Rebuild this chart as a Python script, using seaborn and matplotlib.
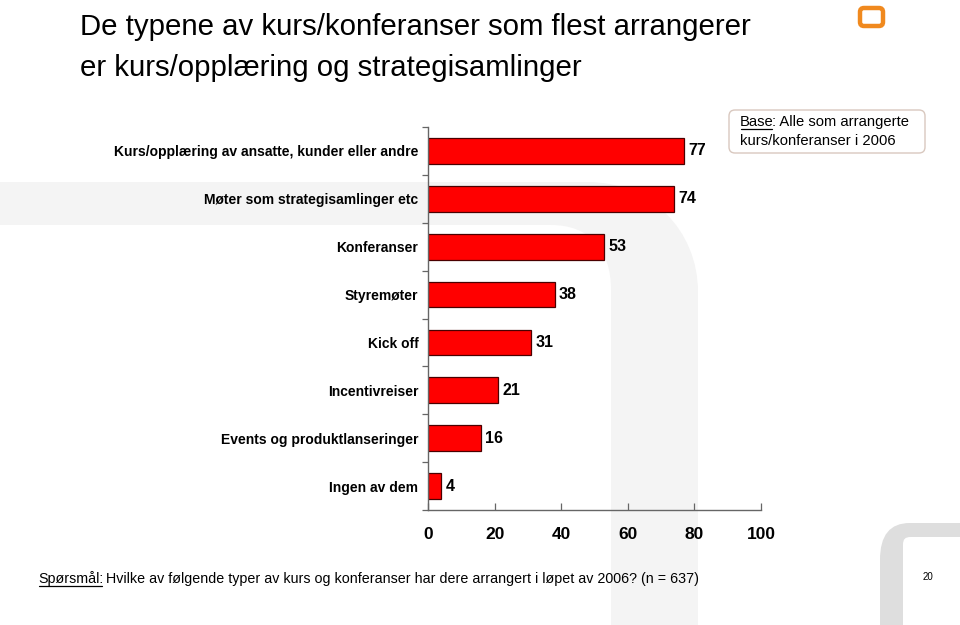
import matplotlib
matplotlib.use("Agg")
import matplotlib.pyplot as plt
import seaborn as sns
import numpy as np
from matplotlib.path import Path
from matplotlib.patches import PathPatch, FancyBboxPatch
from matplotlib.ticker import FixedLocator

categories = [
    "Kurs/opplæring av ansatte, kunder eller andre",
    "Møter som strategisamlinger etc",
    "Konferanser",
    "Styremøter",
    "Kick off",
    "Incentivreiser",
    "Events og produktlanseringer",
    "Ingen av dem",
]
values = [77, 74, 53, 38, 31, 21, 16, 4]
xticks = [0, 20, 40, 60, 80, 100]

title_lines = ["De typene av kurs/konferanser som flest arrangerer",
               "er kurs/opplæring og strategisamlinger"]
base_label = "Base"
base_rest = ": Alle som arrangerte"
base_line2 = "kurs/konferanser i 2006"
q_label = "Spørsmål:"
q_rest = " Hvilke av følgende typer av kurs og konferanser har dere arrangert i løpet av 2006? (n = 637)"
page_no = "20"

sns.set_style("white")
plt.rcParams["font.family"] = ["Liberation Sans", "DejaVu Sans"]
plt.rcParams["text.color"] = "black"
plt.rcParams["xtick.color"] = "black"
plt.rcParams["ytick.color"] = "black"

W, H = 960, 625
fig = plt.figure(figsize=(9.6, 6.25), dpi=100)

# background layer in pixel coordinates
bg = fig.add_axes([0, 0, 1, 1], zorder=0)
bg.set_xlim(0, W)
bg.set_ylim(H, 0)
bg.axis("off")

# large decorative shape
verts = [(0, 182), (588, 182), (650, 182), (698, 230), (698, 292),
         (698, 625), (611, 625), (611, 290), (611, 250), (590, 225), (551, 225),
         (0, 225), (0, 182)]
codes = [Path.MOVETO, Path.LINETO, Path.CURVE4, Path.CURVE4, Path.CURVE4,
         Path.LINETO, Path.LINETO, Path.LINETO, Path.CURVE4, Path.CURVE4, Path.CURVE4,
         Path.LINETO, Path.CLOSEPOLY]
bg.add_patch(PathPatch(Path(verts, codes), facecolor="#f4f4f4", edgecolor="none"))

# bottom-right decorative shape
verts2 = [(960, 523), (910, 523), (890, 523), (880, 535), (880, 560),
          (880, 625), (903, 625), (903, 545), (903, 539), (905, 537), (911, 537),
          (960, 537), (960, 523)]
codes2 = [Path.MOVETO, Path.LINETO, Path.CURVE4, Path.CURVE4, Path.CURVE4,
          Path.LINETO, Path.LINETO, Path.LINETO, Path.CURVE4, Path.CURVE4, Path.CURVE4,
          Path.LINETO, Path.CLOSEPOLY]
bg.add_patch(PathPatch(Path(verts2, codes2), facecolor="#dedede", edgecolor="none"))

# orange icon
bg.add_patch(FancyBboxPatch((860, 8), 23, 18, boxstyle="round,pad=0,rounding_size=4",
                            facecolor="none", edgecolor="#f0891e", linewidth=3.2))

# title
bg.text(80, 27, title_lines[0], fontsize=21.2, va="center", ha="left")
bg.text(80, 68, title_lines[1], fontsize=21.2, va="center", ha="left")

# base box
bg.add_patch(FancyBboxPatch((729, 110), 196, 43, boxstyle="round,pad=0,rounding_size=6",
                            facecolor="white", edgecolor="#d9c8bf", linewidth=1.0))

fig.canvas.draw()
renderer = fig.canvas.get_renderer()
inv = bg.transData.inverted()


def underlined(x, y, lab, rest, size):
    t = bg.text(x, y, lab, fontsize=size, va="baseline", ha="left")
    bb = t.get_window_extent(renderer)
    (x0, _), (x1, _) = inv.transform([(bb.x0, bb.y0), (bb.x1, bb.y0)])
    x1 -= 1.5
    bg.plot([x0 + 0.5, x1], [y + 2.5, y + 2.5], color="black", lw=0.9)
    bg.text(x1, y, rest, fontsize=size, va="baseline", ha="left")


underlined(740, 126, base_label, base_rest, 10.6)
bg.text(740, 145, base_line2, fontsize=10.6, va="baseline", ha="left")
underlined(38, 583, q_label, q_rest, 10.3)
bg.text(928, 580, page_no, fontsize=7, va="baseline", ha="center")

# main axes
x0p, x1p, y0p, y1p = 428, 761, 127, 510
ax = fig.add_axes([x0p / W, 1 - y1p / H, (x1p - x0p) / W, (y1p - y0p) / H], zorder=1)
ax.patch.set_alpha(0)

sns.barplot(x=values, y=categories, orient="h", color="#ff0000", edgecolor="#4a0000",
            linewidth=0.9, width=0.54, saturation=1, ax=ax)
for c in ax.containers:
    ax.bar_label(c, labels=[str(v) for v in values], padding=3, fontsize=11.5,
                 fontweight="bold", color="black")

ax.set_xlim(0, 100)
ax.set_ylim(len(categories) - 0.5, -0.5)
ax.set_xticks(xticks)
ax.set_xticklabels([str(t) for t in xticks], fontsize=12.5, fontweight="bold")
ax.tick_params(axis="x", direction="in", length=5, width=0.9, color="#666666", pad=12,
               bottom=True, labelcolor="black")
ax.set_yticks(range(len(categories)))
ax.set_yticklabels(categories, fontsize=10, fontweight="bold")
ax.tick_params(axis="y", which="major", length=0, pad=7, labelcolor="black")
ax.yaxis.set_minor_locator(FixedLocator(np.arange(-0.5, len(categories), 1.0)))
ax.tick_params(axis="y", which="minor", length=4, width=0.9, color="#666666", left=True)
ax.set_xlabel("")
ax.set_ylabel("")
for s in ["top", "right"]:
    ax.spines[s].set_visible(False)
for s in ["left", "bottom"]:
    ax.spines[s].set_color("#666666")
    ax.spines[s].set_linewidth(1.0)

fig.savefig("out.png", dpi=100)
